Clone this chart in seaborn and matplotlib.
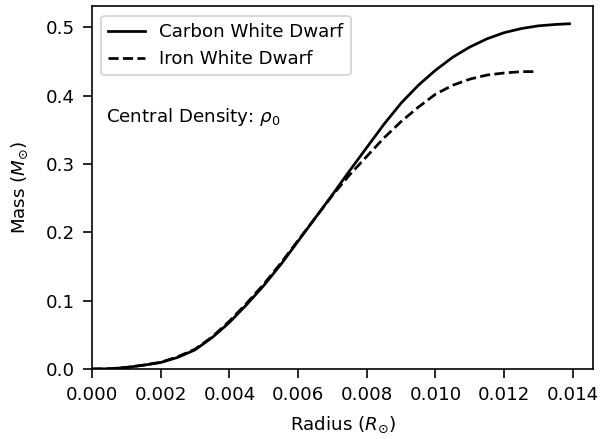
import matplotlib
matplotlib.use("Agg")
import matplotlib.pyplot as plt
import pandas as pd
import seaborn as sns

# Enclosed mass profiles M(r) for two white dwarf compositions at the same central density
carbon_radius = [0.0, 0.0005, 0.001, 0.0015, 0.002, 0.0025, 0.003, 0.0035, 0.004,
                 0.0045, 0.005, 0.0055, 0.006, 0.0065, 0.007, 0.0075, 0.008, 0.0085,
                 0.009, 0.0095, 0.010, 0.0105, 0.011, 0.0115, 0.012, 0.0125, 0.013,
                 0.0135, 0.0139]
carbon_mass = [0.0, 0.0003, 0.0022, 0.0055, 0.0095, 0.017, 0.028, 0.046, 0.068,
               0.094, 0.122, 0.153, 0.187, 0.221, 0.255, 0.290, 0.324, 0.358,
               0.389, 0.415, 0.437, 0.456, 0.471, 0.483, 0.492, 0.498, 0.502,
               0.504, 0.505]

iron_radius = [0.0, 0.0005, 0.001, 0.0015, 0.002, 0.0025, 0.003, 0.0035, 0.004,
               0.0045, 0.005, 0.0055, 0.006, 0.0065, 0.007, 0.0075, 0.008, 0.0085,
               0.009, 0.0095, 0.010, 0.0105, 0.011, 0.0115, 0.012, 0.0125, 0.0129]
iron_mass = [0.0, 0.0003, 0.0023, 0.0057, 0.0098, 0.018, 0.029, 0.047, 0.070,
             0.096, 0.124, 0.155, 0.188, 0.221, 0.254, 0.284, 0.311, 0.338,
             0.362, 0.383, 0.402, 0.415, 0.424, 0.430, 0.433, 0.435, 0.435]

series_names = ["Carbon White Dwarf", "Iron White Dwarf"]

carbon = pd.DataFrame({"radius": carbon_radius, "mass": carbon_mass})
iron = pd.DataFrame({"radius": iron_radius, "mass": iron_mass})

plt.rcParams.update({
    "xtick.major.size": 4.8,
    "ytick.major.size": 4.8,
    "xtick.major.pad": 4.8,
    "ytick.major.pad": 4.8,
    "xtick.major.width": 0.9,
    "ytick.major.width": 0.9,
    "axes.linewidth": 0.9,
})

dpi = 131
fig = plt.figure(figsize=(602 / dpi, 439 / dpi), dpi=dpi)
ax = fig.add_axes([0.1528, 0.1595, 0.8328, 0.8257])

sns.lineplot(data=carbon, x="radius", y="mass", ax=ax, color="black",
             linestyle="-", label=series_names[0])
sns.lineplot(data=iron, x="radius", y="mass", ax=ax, color="black",
             linestyle="--", label=series_names[1])

ax.set_ylim(bottom=0)
ax.set_xlim(left=0)
ax.set_xlabel(r"Radius ($R_{\odot}$)", labelpad=5.5)
ax.set_ylabel(r"Mass ($M_{\odot}$)", labelpad=8.5)
ax.text(0.0004, 0.368, r"Central Density: $\rho_0$", va="center", ha="left")
ax.legend(loc="upper left")

fig.savefig("out.png", dpi=dpi)
